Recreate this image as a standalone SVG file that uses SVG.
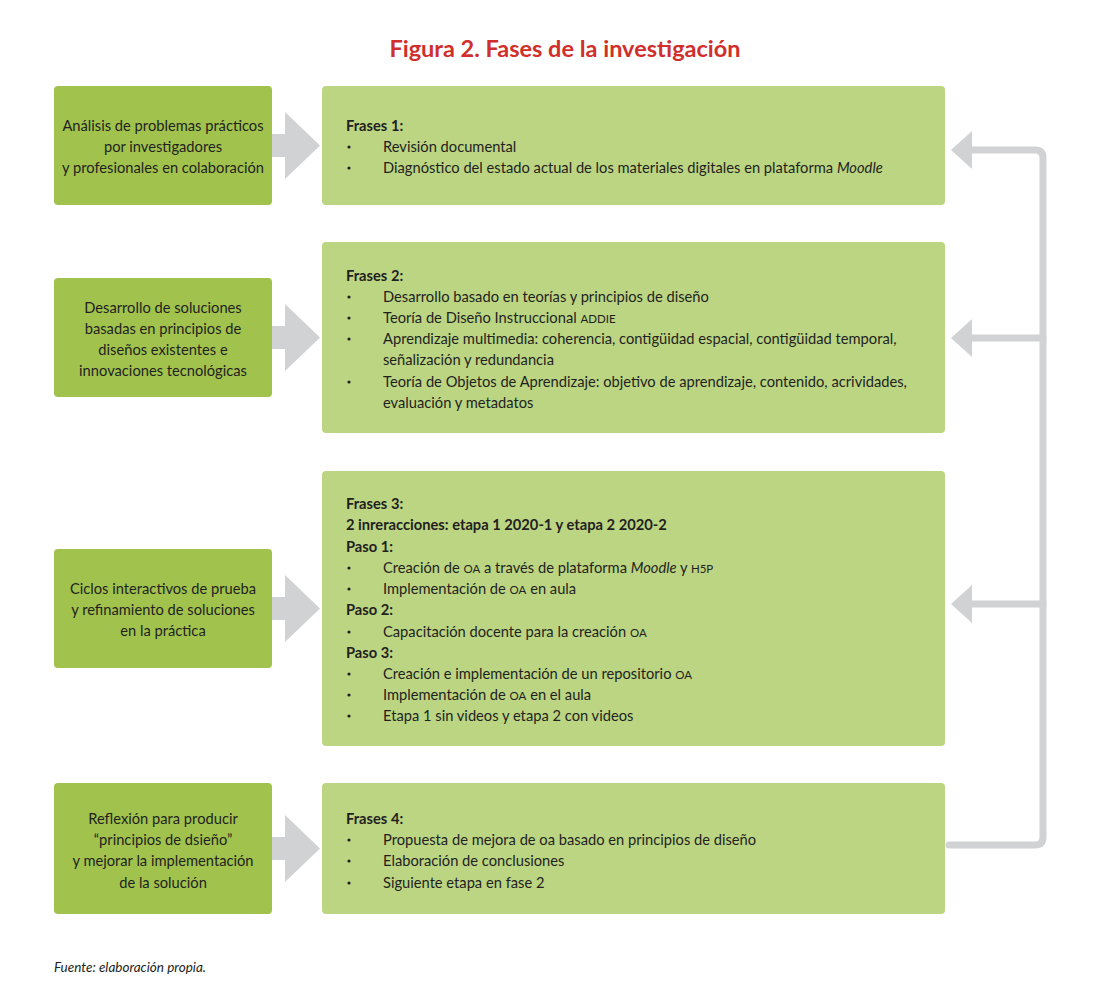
<svg xmlns="http://www.w3.org/2000/svg" width="1100" height="1006" viewBox="0 0 1100 1006">
<style>
.bg{fill:#ffffff}
.lbox{fill:#a1c34d}
.rbox{fill:#bcd583}
.t{font-family:Lato,"Open Sans","Liberation Sans",sans-serif;font-size:14.7px;fill:#231f20}
.c{text-anchor:middle}
.b{font-weight:bold}
.sc{font-size:11.5px}
.i{font-style:italic}
.d{fill:#231f20}
.title{font-family:Lato,"Open Sans","Liberation Sans",sans-serif;font-size:23.5px;font-weight:bold;fill:#d02f2c;text-anchor:middle}
.src{font-family:Lato,"Open Sans","Liberation Sans",sans-serif;font-size:13.5px;font-style:italic;fill:#231f20}
.arr{fill:#d1d2d4}
.fb{fill:none;stroke:#d1d2d4;stroke-width:7;stroke-linejoin:round;stroke-linecap:round}
</style>
<defs>
<circle id="dot" r="1.6" class="d"/>
</defs>
<rect class="bg" x="0" y="0" width="1100" height="1006"/>
<text class="title" x="565" y="57">Figura 2. Fases de la investigación</text>

<g id="connectors">
<path class="arr" d="M272,134 H285 V112 L320,145.5 L285,179 V157 H272 Z"/>
<path class="arr" d="M272,326 H285 V304 L320,337.5 L285,371 V349 H272 Z"/>
<path class="arr" d="M272,597 H285 V575 L320,608.5 L285,642 V620 H272 Z"/>
<path class="arr" d="M272,837 H285 V815 L320,848.5 L285,882 V860 H272 Z"/>
<path class="fb" d="M949,845 H1035 Q1043,845 1043,837 V158 Q1043,150 1035,150 H970"/>
<line class="fb" x1="970" y1="338" x2="1043" y2="338" stroke-linecap="butt"/>
<line class="fb" x1="970" y1="604" x2="1043" y2="604" stroke-linecap="butt"/>
<path class="arr" d="M951,150 L972,131 V169 Z"/>
<path class="arr" d="M951,338 L972,319 V357 Z"/>
<path class="arr" d="M951,604 L972,585 V623 Z"/>
</g>

<g id="l1">
<rect class="lbox" x="54" y="86" width="218" height="119" rx="4"/>
<text class="t c" x="163" y="131">Análisis de problemas prácticos</text>
<text class="t c" x="163" y="152">por investigadores</text>
<text class="t c" x="163" y="173">y profesionales en colaboración</text>
</g>
<g id="l2">
<rect class="lbox" x="54" y="278" width="218" height="119" rx="4"/>
<text class="t c" x="163" y="313">Desarrollo de soluciones</text>
<text class="t c" x="163" y="334">basadas en principios de</text>
<text class="t c" x="163" y="355">diseños existentes e</text>
<text class="t c" x="163" y="376">innovaciones tecnológicas</text>
</g>
<g id="l3">
<rect class="lbox" x="54" y="549" width="218" height="119" rx="4"/>
<text class="t c" x="163" y="594">Ciclos interactivos de prueba</text>
<text class="t c" x="163" y="615">y refinamiento de soluciones</text>
<text class="t c" x="163" y="636">en la práctica</text>
</g>
<g id="l4">
<rect class="lbox" x="54" y="783" width="218" height="131" rx="4"/>
<text class="t c" x="163" y="824">Reflexión para producir</text>
<text class="t c" x="163" y="845">“principios de dsieño”</text>
<text class="t c" x="163" y="866">y mejorar la implementación</text>
<text class="t c" x="163" y="888">de la solución</text>
</g>

<g id="r1">
<rect class="rbox" x="322" y="86" width="623" height="119" rx="4"/>
<text class="t b" x="346" y="131">Frases 1:</text>
<use href="#dot" x="349" y="147"/><text class="t" x="383" y="152">Revisión documental</text>
<use href="#dot" x="349" y="168"/><text class="t" x="383" y="173">Diagnóstico del estado actual de los materiales digitales en plataforma <tspan class="i">Moodle</tspan></text>
</g>
<g id="r2">
<rect class="rbox" x="322" y="242" width="623" height="191" rx="4"/>
<text class="t b" x="346" y="281">Frases 2:</text>
<use href="#dot" x="349" y="297"/><text class="t" x="383" y="302">Desarrollo basado en teorías y principios de diseño</text>
<use href="#dot" x="349" y="318"/><text class="t" x="383" y="323">Teoría de Diseño Instruccional <tspan class="sc">ADDIE</tspan></text>
<use href="#dot" x="349" y="339"/><text class="t" x="383" y="344">Aprendizaje multimedia: coherencia, contigüidad espacial, contigüidad temporal,</text>
<text class="t" x="383" y="365">señalización y redundancia</text>
<use href="#dot" x="349" y="382"/><text class="t" x="383" y="387">Teoría de Objetos de Aprendizaje: objetivo de aprendizaje, contenido, acrividades,</text>
<text class="t" x="383" y="408">evaluación y metadatos</text>
</g>
<g id="r3">
<rect class="rbox" x="322" y="471" width="623" height="275" rx="4"/>
<text class="t b" x="346" y="509">Frases 3:</text>
<text class="t b" x="346" y="530">2 inreracciones: etapa 1 2020-1 y etapa 2 2020-2</text>
<text class="t b" x="346" y="552">Paso 1:</text>
<use href="#dot" x="349" y="568"/><text class="t" x="383" y="573">Creación de <tspan class="sc">OA</tspan> a través de plataforma <tspan class="i">Moodle</tspan> y <tspan class="sc">H5P</tspan></text>
<use href="#dot" x="349" y="589"/><text class="t" x="383" y="594">Implementación de <tspan class="sc">OA</tspan> en aula</text>
<text class="t b" x="346" y="615">Paso 2:</text>
<use href="#dot" x="349" y="632"/><text class="t" x="383" y="637">Capacitación docente para la creación <tspan class="sc">OA</tspan></text>
<text class="t b" x="346" y="658">Paso 3:</text>
<use href="#dot" x="349" y="674"/><text class="t" x="383" y="679">Creación e implementación de un repositorio <tspan class="sc">OA</tspan></text>
<use href="#dot" x="349" y="695"/><text class="t" x="383" y="700">Implementación de <tspan class="sc">OA</tspan> en el aula</text>
<use href="#dot" x="349" y="716"/><text class="t" x="383" y="721">Etapa 1 sin videos y etapa 2 con videos</text>
</g>
<g id="r4">
<rect class="rbox" x="322" y="783" width="623" height="131" rx="4"/>
<text class="t b" x="346" y="824">Frases 4:</text>
<use href="#dot" x="349" y="840"/><text class="t" x="383" y="845">Propuesta de mejora de oa basado en principios de diseño</text>
<use href="#dot" x="349" y="861"/><text class="t" x="383" y="866">Elaboración de conclusiones</text>
<use href="#dot" x="349" y="883"/><text class="t" x="383" y="888">Siguiente etapa en fase 2</text>
</g>

<text class="src" x="54" y="972">Fuente: elaboración propia.</text>
</svg>
